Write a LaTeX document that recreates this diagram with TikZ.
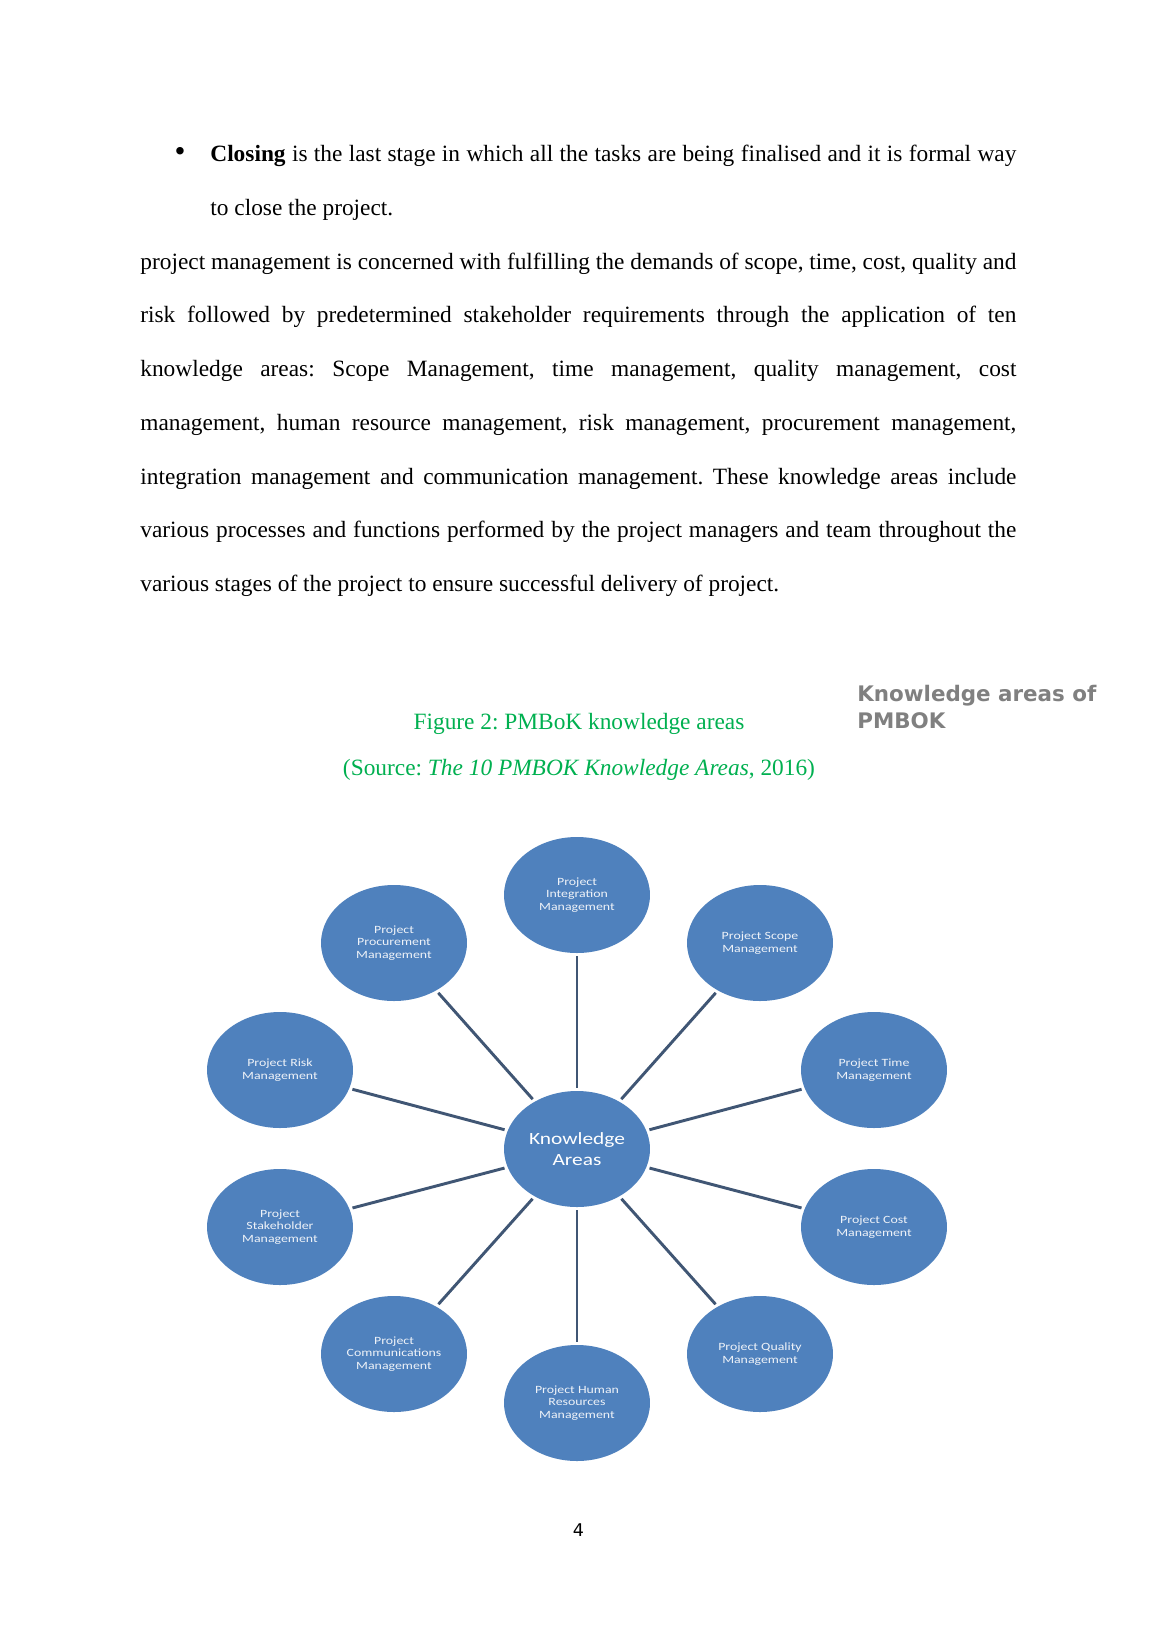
\documentclass[tikz,border=0pt]{standalone}
\usepackage{fontspec}
\setmainfont{Liberation Serif}
\newfontfamily\diagfont{Carlito}[FakeStretch=1.25]
\newfontfamily\dejavu{DejaVu Sans}
\usetikzlibrary{shapes.geometric}
\definecolor{kablue}{RGB}{79,129,189}
\definecolor{kaline}{RGB}{64,86,116}
\definecolor{capgreen}{RGB}{0,176,80}
\definecolor{boxgray}{RGB}{128,128,128}
\definecolor{katext}{RGB}{238,242,248}
\newcommand\bodysize{\fontsize{12}{27.63}\selectfont\frenchspacing}
\begin{document}
\begin{tikzpicture}[x=0.5138pt,y=-0.5138pt,
  area/.style={ellipse, fill=kablue, inner sep=0pt, minimum width=75pt, minimum height=59.6pt,
    text=katext, align=center, font=\diagfont\fontsize{5.7}{6.3}\selectfont},
  hub/.style={area, text=white, font=\diagfont\fontsize{8.8}{10.8}\selectfont},
  link/.style={draw=kaline, line width=1.5pt, shorten <=1.5pt, shorten >=1.5pt},
  bodytext/.style={anchor=base west, inner sep=0pt, font=\bodysize},
  captext/.style={anchor=base, inner sep=0pt, text=capgreen, font=\bodysize}
]
\useasboundingbox (0,0) rectangle (1158,1638);
\fill[white] (0,0) rectangle (1158,1638);

% bullet paragraph
\node[anchor=base, inner sep=0pt, font=\fontsize{16}{20}\selectfont] (bul) at (180,161.5) {\textbullet};
\node[bodytext] (closing) at (210,161.5) {\parbox[t]{414.1pt}{\bodysize\tolerance=10000\hyphenpenalty=10000
\textbf{Closing} is the last stage in which all the tasks are being finalised and it is formal way\linebreak
to close the project.}};

% main paragraph
\node[bodytext] (para) at (140,269.1) {\parbox[t]{450.1pt}{\bodysize\tolerance=10000\hyphenpenalty=10000
project management is concerned with fulfilling the demands of scope, time, cost, quality and\linebreak
risk followed by predetermined stakeholder requirements through the application of ten\linebreak
knowledge areas: Scope Management, time management, quality management, cost\linebreak
management, human resource management, risk management, procurement management,\linebreak
integration management and communication management. These knowledge areas include\linebreak
various processes and functions performed by the project managers and team throughout the\linebreak
various stages of the project to ensure successful delivery of project.}};

% captions
\node[captext] (cap) at (579,729.5) {Figure 2: PMBoK knowledge areas};
\node[captext] (src) at (579,775.5) {(Source: \textit{The 10 PMBOK Knowledge Areas}, 2016)};
\node[anchor=base west, inner sep=0pt, text=boxgray, font=\dejavu\bfseries\fontsize{11}{13.8}\selectfont] (kap) at (857,701.5)
  {\parbox[t]{160pt}{\raggedright Knowledge areas of\\PMBOK}};

% diagram
\node[hub] (ka) at (577,1149) {Knowledge\\Areas};
\node[area] (int) at (577,895) {Project\\Integration\\Management};
\node[area] (scope) at (760,943) {Project Scope\\Management};
\node[area] (time) at (874,1070) {Project Time\\Management};
\node[area] (cost) at (874,1227) {Project Cost\\Management};
\node[area] (qual) at (760,1354) {Project Quality\\Management};
\node[area] (hr) at (577,1403) {Project Human\\Resources\\Management};
\node[area] (comm) at (394,1354) {Project\\Communications\\Management};
\node[area] (stake) at (280,1227) {Project\\Stakeholder\\Management};
\node[area] (risk) at (280,1070) {Project Risk\\Management};
\node[area] (proc) at (394,943) {Project\\Procurement\\Management};
\foreach \n in {int,scope,time,cost,qual,hr,comm,stake,risk,proc}
  \draw[link] (ka) -- (\n);

% page number
\node[anchor=base, inner sep=0pt, font=\dejavu\fontsize{9}{11}\selectfont] (pg) at (578.5,1536) {4};
\end{tikzpicture}
\end{document}
